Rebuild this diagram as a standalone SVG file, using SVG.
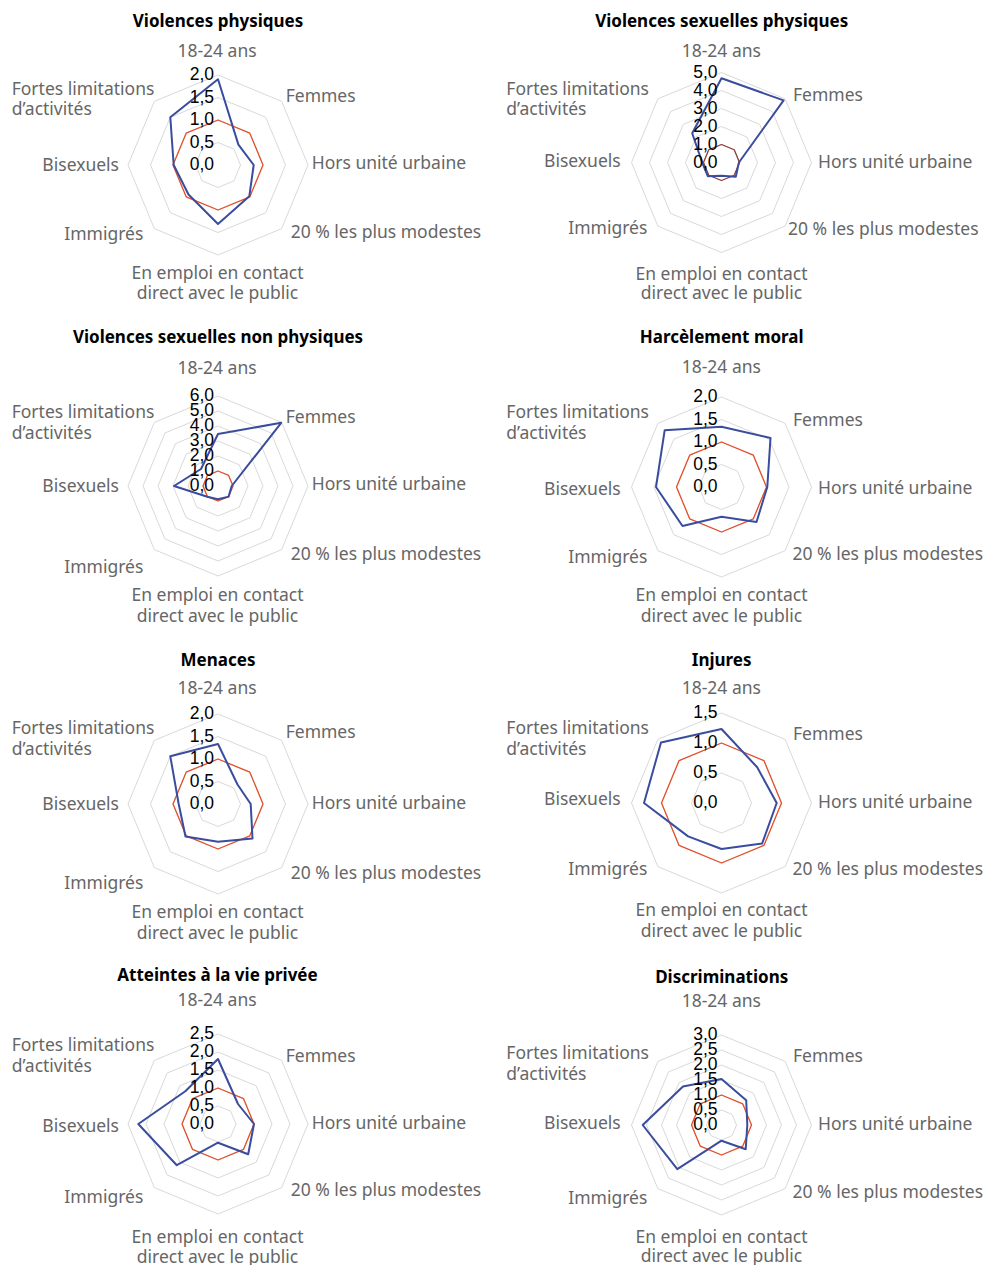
<svg xmlns="http://www.w3.org/2000/svg" xmlns:xlink="http://www.w3.org/1999/xlink" width="986" height="1265" viewBox="0 0 986 1265">
<style>
.grid polygon{fill:none;stroke:#d9d9d9;stroke-width:1}
.ref{fill:none;stroke:#e4502a;stroke-width:1.3;stroke-linejoin:round}
.ref2{fill:none;stroke:#8e3f36;stroke-width:1.3;stroke-linejoin:round}
.ser{fill:none;stroke:#3a4c9e;stroke-width:2;stroke-linejoin:round}
.cat{font-family:"Noto Sans","Liberation Sans",sans-serif;font-size:17.5px;fill:#666}
.mid{text-anchor:middle}
.end{text-anchor:end}
.val{font-family:"Liberation Sans",Arial,sans-serif;font-size:17.5px;fill:#000;text-anchor:end}
.ttl{font-family:"Noto Sans","Liberation Sans",sans-serif;font-size:17px;font-weight:bold;fill:#000;text-anchor:middle}
</style>
<defs>
<g id="grid4" class="grid">
<polygon points="0,-22.5 15.91,-15.91 22.5,0 15.91,15.91 0,22.5 -15.91,15.91 -22.5,0 -15.91,-15.91"/>
<polygon points="0,-45 31.82,-31.82 45,0 31.82,31.82 0,45 -31.82,31.82 -45,0 -31.82,-31.82"/>
<polygon points="0,-67.5 47.73,-47.73 67.5,0 47.73,47.73 0,67.5 -47.73,47.73 -67.5,0 -47.73,-47.73"/>
<polygon points="0,-90 63.64,-63.64 90,0 63.64,63.64 0,90 -63.64,63.64 -90,0 -63.64,-63.64"/>
</g>
<g id="grid5" class="grid">
<polygon points="0,-18 12.73,-12.73 18,0 12.73,12.73 0,18 -12.73,12.73 -18,0 -12.73,-12.73"/>
<polygon points="0,-36 25.46,-25.46 36,0 25.46,25.46 0,36 -25.46,25.46 -36,0 -25.46,-25.46"/>
<polygon points="0,-54 38.18,-38.18 54,0 38.18,38.18 0,54 -38.18,38.18 -54,0 -38.18,-38.18"/>
<polygon points="0,-72 50.91,-50.91 72,0 50.91,50.91 0,72 -50.91,50.91 -72,0 -50.91,-50.91"/>
<polygon points="0,-90 63.64,-63.64 90,0 63.64,63.64 0,90 -63.64,63.64 -90,0 -63.64,-63.64"/>
</g>
<g id="grid6" class="grid">
<polygon points="0,-15 10.61,-10.61 15,0 10.61,10.61 0,15 -10.61,10.61 -15,0 -10.61,-10.61"/>
<polygon points="0,-30 21.21,-21.21 30,0 21.21,21.21 0,30 -21.21,21.21 -30,0 -21.21,-21.21"/>
<polygon points="0,-45 31.82,-31.82 45,0 31.82,31.82 0,45 -31.82,31.82 -45,0 -31.82,-31.82"/>
<polygon points="0,-60 42.43,-42.43 60,0 42.43,42.43 0,60 -42.43,42.43 -60,0 -42.43,-42.43"/>
<polygon points="0,-75 53.03,-53.03 75,0 53.03,53.03 0,75 -53.03,53.03 -75,0 -53.03,-53.03"/>
<polygon points="0,-90 63.64,-63.64 90,0 63.64,63.64 0,90 -63.64,63.64 -90,0 -63.64,-63.64"/>
</g>
<g id="grid3" class="grid">
<polygon points="0,-30 21.21,-21.21 30,0 21.21,21.21 0,30 -21.21,21.21 -30,0 -21.21,-21.21"/>
<polygon points="0,-60 42.43,-42.43 60,0 42.43,42.43 0,60 -42.43,42.43 -60,0 -42.43,-42.43"/>
<polygon points="0,-90 63.64,-63.64 90,0 63.64,63.64 0,90 -63.64,63.64 -90,0 -63.64,-63.64"/>
</g>
</defs>
<rect width="986" height="1265" fill="#fff"/>

<!-- Chart 1 -->
<g id="chart-violences-physiques">
<text class="ttl" x="218" y="27">Violences physiques</text>
<g transform="translate(218,165)">
<use xlink:href="#grid4"/>
<polygon class="ref" points="0,-45 31.82,-31.82 45,0 31.82,31.82 0,45 -31.82,31.82 -45,0 -31.82,-31.82"/>
<polygon class="ser" points="0,-85.7 20.4,-20.4 35.7,0 31.3,31.3 0,59 -29.5,29.5 -44.3,0 -47.7,-47.7"/>
<text class="val" x="-4" y="5">0,0</text>
<text class="val" x="-4" y="-17.5">0,5</text>
<text class="val" x="-4" y="-40">1,0</text>
<text class="val" x="-4" y="-62.5">1,5</text>
<text class="val" x="-4" y="-85">2,0</text>
</g>
<text class="cat mid" x="217" y="57">18-24 ans</text>
<text class="cat" x="285.7" y="101.7">Femmes</text>
<text class="cat" x="311.7" y="169.3">Hors unité urbaine</text>
<text class="cat" x="290.7" y="238">20 % les plus modestes</text>
<text class="cat mid" x="217.5" y="279.3">En emploi en contact</text>
<text class="cat mid" x="217.5" y="299.3">direct avec le public</text>
<text class="cat end" x="143.3" y="240">Immigrés</text>
<text class="cat end" x="119" y="170.7">Bisexuels</text>
<text class="cat" x="11.7" y="95">Fortes limitations</text>
<text class="cat" x="11.7" y="115">d’activités</text>
</g>

<!-- Chart 2 -->
<g id="chart-violences-sexuelles-physiques">
<text class="ttl" x="721.7" y="27">Violences sexuelles physiques</text>
<g transform="translate(721.5,162.5)">
<use xlink:href="#grid5"/>
<polygon class="ref2" points="0,-18 12.73,-12.73 18,0 12.73,12.73 0,18 -12.73,12.73 -18,0 -12.73,-12.73"/>
<polygon class="ser" points="0,-84.2 62.1,-62.1 17.4,0 14.3,14.3 0,13.2 -13.7,13.7 -19.3,0 -29.3,-29.3"/>
<text class="val" x="-4" y="5">0,0</text>
<text class="val" x="-4" y="-13">1,0</text>
<text class="val" x="-4" y="-31">2,0</text>
<text class="val" x="-4" y="-49">3,0</text>
<text class="val" x="-4" y="-67">4,0</text>
<text class="val" x="-4" y="-85">5,0</text>
</g>
<text class="cat mid" x="721.3" y="57">18-24 ans</text>
<text class="cat" x="793" y="100.7">Femmes</text>
<text class="cat" x="818" y="167.7">Hors unité urbaine</text>
<text class="cat" x="788" y="235.3">20 % les plus modestes</text>
<text class="cat mid" x="721.5" y="280">En emploi en contact</text>
<text class="cat mid" x="721.5" y="299.3">direct avec le public</text>
<text class="cat end" x="647.3" y="234.3">Immigrés</text>
<text class="cat end" x="620.7" y="166.7">Bisexuels</text>
<text class="cat" x="506.3" y="95">Fortes limitations</text>
<text class="cat" x="506.3" y="115">d’activités</text>
</g>

<!-- Chart 3 -->
<g id="chart-violences-sexuelles-non-physiques">
<text class="ttl" x="218" y="343">Violences sexuelles non physiques</text>
<g transform="translate(218,486)">
<use xlink:href="#grid6"/>
<polygon class="ref" points="0,-15 10.61,-10.61 15,0 10.61,10.61 0,15 -10.61,10.61 -15,0 -10.61,-10.61"/>
<polygon class="ser" points="0,-52 63.2,-63.2 13.7,0 10.6,10.6 0,13.3 -10.7,10.7 -44,0 -17,-17"/>
<text class="val" x="-4" y="5">0,0</text>
<text class="val" x="-4" y="-10">1,0</text>
<text class="val" x="-4" y="-25">2,0</text>
<text class="val" x="-4" y="-40">3,0</text>
<text class="val" x="-4" y="-55">4,0</text>
<text class="val" x="-4" y="-70">5,0</text>
<text class="val" x="-4" y="-85">6,0</text>
</g>
<text class="cat mid" x="217" y="373.5">18-24 ans</text>
<text class="cat" x="285.7" y="423">Femmes</text>
<text class="cat" x="311.7" y="490">Hors unité urbaine</text>
<text class="cat" x="290.7" y="560">20 % les plus modestes</text>
<text class="cat mid" x="217.5" y="601">En emploi en contact</text>
<text class="cat mid" x="217.5" y="622">direct avec le public</text>
<text class="cat end" x="143.3" y="573">Immigrés</text>
<text class="cat end" x="119" y="492">Bisexuels</text>
<text class="cat" x="11.7" y="418">Fortes limitations</text>
<text class="cat" x="11.7" y="439">d’activités</text>
</g>

<!-- Chart 4 -->
<g id="chart-harcelement-moral">
<text class="ttl" x="721.7" y="343">Harcèlement moral</text>
<g transform="translate(721.5,487)">
<use xlink:href="#grid4"/>
<polygon class="ref" points="0,-45 31.82,-31.82 45,0 31.82,31.82 0,45 -31.82,31.82 -45,0 -31.82,-31.82"/>
<polygon class="ser" points="0,-60.3 49,-49 45.8,0 35,35 0,29.7 -39,39 -65.5,0 -56.8,-56.8"/>
<text class="val" x="-4" y="5">0,0</text>
<text class="val" x="-4" y="-17.5">0,5</text>
<text class="val" x="-4" y="-40">1,0</text>
<text class="val" x="-4" y="-62.5">1,5</text>
<text class="val" x="-4" y="-85">2,0</text>
</g>
<text class="cat mid" x="721.3" y="373">18-24 ans</text>
<text class="cat" x="793" y="426">Femmes</text>
<text class="cat" x="818" y="494">Hors unité urbaine</text>
<text class="cat" x="792.5" y="560">20 % les plus modestes</text>
<text class="cat mid" x="721.5" y="601">En emploi en contact</text>
<text class="cat mid" x="721.5" y="622">direct avec le public</text>
<text class="cat end" x="647.3" y="563">Immigrés</text>
<text class="cat end" x="620.7" y="495">Bisexuels</text>
<text class="cat" x="506.3" y="418">Fortes limitations</text>
<text class="cat" x="506.3" y="439">d’activités</text>
</g>

<!-- Chart 5 -->
<g id="chart-menaces">
<text class="ttl" x="218" y="666">Menaces</text>
<g transform="translate(218,804)">
<use xlink:href="#grid4"/>
<polygon class="ref" points="0,-45 31.82,-31.82 45,0 31.82,31.82 0,45 -31.82,31.82 -45,0 -31.82,-31.82"/>
<polygon class="ser" points="0,-60 19.5,-19.5 32.7,0 34.5,34.5 0,37.7 -32.5,32.5 -39.3,0 -47.7,-47.7"/>
<text class="val" x="-4" y="5">0,0</text>
<text class="val" x="-4" y="-17.5">0,5</text>
<text class="val" x="-4" y="-40">1,0</text>
<text class="val" x="-4" y="-62.5">1,5</text>
<text class="val" x="-4" y="-85">2,0</text>
</g>
<text class="cat mid" x="217" y="694">18-24 ans</text>
<text class="cat" x="285.7" y="738">Femmes</text>
<text class="cat" x="311.7" y="809">Hors unité urbaine</text>
<text class="cat" x="290.7" y="879">20 % les plus modestes</text>
<text class="cat mid" x="217.5" y="918">En emploi en contact</text>
<text class="cat mid" x="217.5" y="939">direct avec le public</text>
<text class="cat end" x="143.3" y="889">Immigrés</text>
<text class="cat end" x="119" y="810">Bisexuels</text>
<text class="cat" x="11.7" y="734">Fortes limitations</text>
<text class="cat" x="11.7" y="755">d’activités</text>
</g>

<!-- Chart 6 -->
<g id="chart-injures">
<text class="ttl" x="721.7" y="666">Injures</text>
<g transform="translate(721.5,803)">
<use xlink:href="#grid3"/>
<polygon class="ref" points="0,-60 42.43,-42.43 60,0 42.43,42.43 0,60 -42.43,42.43 -60,0 -42.43,-42.43"/>
<polygon class="ser" points="0,-74 35.7,-35.7 55.2,0 40.6,40.6 0,46 -33.4,33.4 -77.5,0 -60.5,-60.5"/>
<text class="val" x="-4" y="5">0,0</text>
<text class="val" x="-4" y="-25">0,5</text>
<text class="val" x="-4" y="-55">1,0</text>
<text class="val" x="-4" y="-85">1,5</text>
</g>
<text class="cat mid" x="721.3" y="694">18-24 ans</text>
<text class="cat" x="793" y="740">Femmes</text>
<text class="cat" x="818" y="808">Hors unité urbaine</text>
<text class="cat" x="792.5" y="875">20 % les plus modestes</text>
<text class="cat mid" x="721.5" y="916">En emploi en contact</text>
<text class="cat mid" x="721.5" y="937">direct avec le public</text>
<text class="cat end" x="647.3" y="875">Immigrés</text>
<text class="cat end" x="620.7" y="805">Bisexuels</text>
<text class="cat" x="506.3" y="734">Fortes limitations</text>
<text class="cat" x="506.3" y="755">d’activités</text>
</g>

<!-- Chart 7 -->
<g id="chart-atteintes-vie-privee">
<text class="ttl" x="217.5" y="981">Atteintes à la vie privée</text>
<g transform="translate(218,1124)">
<use xlink:href="#grid5"/>
<polygon class="ref" points="0,-36 25.46,-25.46 36,0 25.46,25.46 0,36 -25.46,25.46 -36,0 -25.46,-25.46"/>
<polygon class="ser" points="0,-65 20,-20 36,0 30.2,30.2 0,18.7 -41.2,41.2 -79.7,0 -32.7,-32.7"/>
<text class="val" x="-4" y="5">0,0</text>
<text class="val" x="-4" y="-13">0,5</text>
<text class="val" x="-4" y="-31">1,0</text>
<text class="val" x="-4" y="-49">1,5</text>
<text class="val" x="-4" y="-67">2,0</text>
<text class="val" x="-4" y="-85">2,5</text>
</g>
<text class="cat mid" x="217" y="1005.7">18-24 ans</text>
<text class="cat" x="285.7" y="1061.7">Femmes</text>
<text class="cat" x="311.7" y="1129">Hors unité urbaine</text>
<text class="cat" x="290.7" y="1196">20 % les plus modestes</text>
<text class="cat mid" x="217.5" y="1243.3">En emploi en contact</text>
<text class="cat mid" x="217.5" y="1263">direct avec le public</text>
<text class="cat end" x="143.3" y="1203.3">Immigrés</text>
<text class="cat end" x="119" y="1131.7">Bisexuels</text>
<text class="cat" x="11.7" y="1050.7">Fortes limitations</text>
<text class="cat" x="11.7" y="1071.7">d’activités</text>
</g>

<!-- Chart 8 -->
<g id="chart-discriminations">
<text class="ttl" x="721.7" y="983">Discriminations</text>
<g transform="translate(721.5,1125)">
<use xlink:href="#grid6"/>
<polygon class="ref" points="0,-30 21.21,-21.21 30,0 21.21,21.21 0,30 -21.21,21.21 -30,0 -21.21,-21.21"/>
<polygon class="ser" points="0,-46 24.7,-24.7 25.8,0 24.2,24.2 0,15.7 -44.2,44.2 -78.8,0 -38.5,-38.5"/>
<text class="val" x="-4" y="5">0,0</text>
<text class="val" x="-4" y="-10">0,5</text>
<text class="val" x="-4" y="-25">1,0</text>
<text class="val" x="-4" y="-40">1,5</text>
<text class="val" x="-4" y="-55">2,0</text>
<text class="val" x="-4" y="-70">2,5</text>
<text class="val" x="-4" y="-85">3,0</text>
</g>
<text class="cat mid" x="721.3" y="1007">18-24 ans</text>
<text class="cat" x="793" y="1062">Femmes</text>
<text class="cat" x="818" y="1130">Hors unité urbaine</text>
<text class="cat" x="792.5" y="1198">20 % les plus modestes</text>
<text class="cat mid" x="721.5" y="1243">En emploi en contact</text>
<text class="cat mid" x="721.5" y="1262">direct avec le public</text>
<text class="cat end" x="647.3" y="1204">Immigrés</text>
<text class="cat end" x="620.7" y="1129">Bisexuels</text>
<text class="cat" x="506.3" y="1059">Fortes limitations</text>
<text class="cat" x="506.3" y="1080">d’activités</text>
</g>
</svg>
